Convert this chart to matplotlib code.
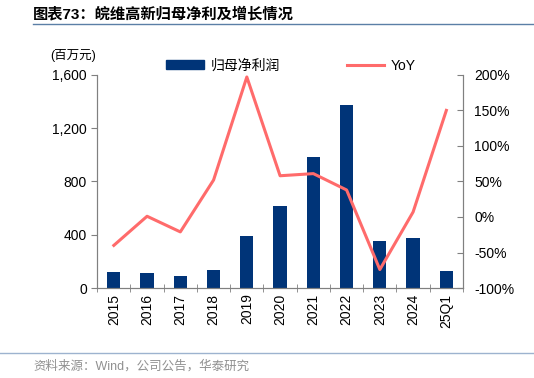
import matplotlib.pyplot as plt
from matplotlib.lines import Line2D
from matplotlib.patches import Patch
import numpy as np

plt.rcParams['font.family'] = ['Liberation Sans', 'Noto Sans CJK SC']

labels = ['2015', '2016', '2017', '2018', '2019', '2020', '2021', '2022', '2023', '2024', '25Q1']
profit = [120, 115, 90, 135, 390, 615, 985, 1375, 350, 375, 125]
yoy = [-40, 1, -21, 52, 197, 58, 61, 38, -74, 7, 150]

bar_color = '#003478'
line_color = '#FF6B6B'
spine_color = '#808080'

fig = plt.figure(figsize=(5.34, 3.78), dpi=100)
ax = fig.add_axes([0.182, 0.238, 0.685, 0.564])
x = np.arange(len(labels))
ax.bar(x, profit, width=0.4, color=bar_color, zorder=2)
ax.set_xlim(-0.5, len(labels) - 0.5)
ax.set_ylim(0, 1600)
ax.set_yticks([0, 400, 800, 1200, 1600])
ax.set_yticklabels(['0', '400', '800', '1,200', '1,600'])
ax.set_xticks(x)
ax.set_xticklabels(labels, rotation=90)
ax.set_xticks(np.arange(-0.5, len(labels)), minor=True)
ax.tick_params(axis='x', which='major', length=0, pad=4, labelsize=10)
ax.tick_params(axis='x', which='minor', length=6, direction='inout', color=spine_color)
ax.tick_params(axis='y', length=4, direction='out', color=spine_color, labelsize=10)

ax2 = ax.twinx()
ax2.plot(x, yoy, color=line_color, lw=2.2, zorder=3)
ax2.set_ylim(-100, 200)
ax2.set_yticks([-100, -50, 0, 50, 100, 150, 200])
ax2.set_yticklabels([f'{v}%' for v in [-100, -50, 0, 50, 100, 150, 200]])
ax2.tick_params(axis='y', length=4, direction='in', color=spine_color, labelsize=10, pad=8)

for a in (ax, ax2):
    a.spines['top'].set_visible(False)
    for s in ('left', 'right', 'bottom'):
        a.spines[s].set_color(spine_color)

fig.text(0.094, 0.845, '(百万元)', fontsize=9)

handles = [Patch(color=bar_color), Line2D([], [], color=line_color, lw=2.2)]
fig.legend(handles, ['归母净利润', 'YoY'], loc='center', bbox_to_anchor=(0.545, 0.826),
           ncol=2, frameon=False, fontsize=10, handlelength=2.7, columnspacing=4.8,
           handleheight=0.6, handletextpad=0.5)

fig.text(0.062, 0.962, '图表73：皖维高新归母净利及增长情况', fontsize=11, fontweight='bold', va='center')
fig.add_artist(Line2D([0.062, 1.0], [0.937, 0.937], color='#5b7fa6', lw=1))
fig.add_artist(Line2D([0.0, 1.0], [0.066, 0.066], color='#9db3cf', lw=1))
fig.text(0.062, 0.032, '资料来源：Wind，公司公告，华泰研究', fontsize=9, color='#909090', va='center')

fig.savefig('out.png', dpi=100)
